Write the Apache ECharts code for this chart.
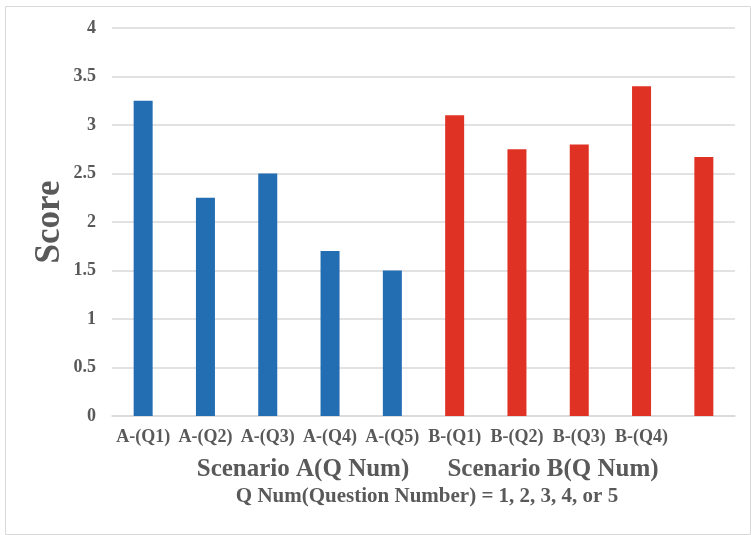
<!DOCTYPE html>
<html>
<head>
<meta charset="utf-8">
<style>
  html, body { margin: 0; padding: 0; background: #ffffff; }
  #chart { width: 751px; height: 535px; }
</style>
<script src="https://cdn.jsdelivr.net/npm/echarts@6/dist/echarts.min.js"></script>
</head>
<body>
<div id="chart"></div>
<script>
// Question categories for the two scenarios
const categories = ['A-(Q1)', 'A-(Q2)', 'A-(Q3)', 'A-(Q4)', 'A-(Q5)',
                    'B-(Q1)', 'B-(Q2)', 'B-(Q3)', 'B-(Q4)', 'B-(Q5)'];
// Mean scores per question
const scenarioA = [3.25, 2.25, 2.5, 1.7, 1.5];
const scenarioB = [3.1, 2.75, 2.8, 3.4, 2.67];
// Labels shown under the category axis (last one left blank)
const shownLabels = ['A-(Q1)', 'A-(Q2)', 'A-(Q3)', 'A-(Q4)', 'A-(Q5)',
                     'B-(Q1)', 'B-(Q2)', 'B-(Q3)', 'B-(Q4)', ''];
const yTicks = [0, 0.5, 1, 1.5, 2, 2.5, 3, 3.5, 4];

const BLUE = '#236db2';
const RED = '#df3224';
const TEXT = '#595959';
const FONT = '"Liberation Serif", "Times New Roman", serif';

const barData = categories.map((c, i) => {
  const isA = i < scenarioA.length;
  return {
    value: isA ? scenarioA[i] : scenarioB[i - scenarioA.length],
    itemStyle: { color: isA ? BLUE : RED }
  };
});

const chart = echarts.init(document.getElementById('chart'), null, { renderer: 'canvas' });
chart.setOption({
  animation: false,
  backgroundColor: '#ffffff',
  grid: { left: 112, right: 16, top: 28, bottom: 119, containLabel: false },
  title: [
    { text: 'Scenario A(Q Num)', left: 298, top: 452, textAlign: 'center',
      textStyle: { fontFamily: FONT, fontSize: 25, fontWeight: 'bold', color: TEXT } },
    { text: 'Scenario B(Q Num)', left: 548, top: 452, textAlign: 'center',
      textStyle: { fontFamily: FONT, fontSize: 25, fontWeight: 'bold', color: TEXT } },
    { text: 'Q Num(Question Number) = 1, 2, 3, 4, or 5', left: 422, top: 481, textAlign: 'center',
      textStyle: { fontFamily: FONT, fontSize: 21, fontWeight: 'bold', color: TEXT } }
  ],
  graphic: [
    { type: 'rect', left: 3, top: 4, shape: { width: 745, height: 528 },
      style: { fill: 'none', stroke: '#d9d9d9', lineWidth: 1 }, silent: true },
    // y-axis title
    { type: 'text', x: 50, y: 222, rotation: Math.PI / 2, silent: true,
      style: { text: 'Score', fontFamily: FONT, fontSize: 35, fontWeight: 'bold',
               fill: TEXT, align: 'center', verticalAlign: 'middle' } }
  ],
  xAxis: {
    type: 'category',
    data: categories,
    axisLine: { show: true, lineStyle: { color: '#d9d9d9', width: 1.5 } },
    axisTick: { show: false },
    axisLabel: {
      interval: 0,
      margin: 12,
      fontFamily: FONT, fontSize: 18, fontWeight: 'bold', color: TEXT,
      formatter: (v, i) => shownLabels[i]
    }
  },
  yAxis: {
    type: 'value',
    min: 0, max: 4, interval: 0.5,
    axisLine: { show: false },
    axisTick: { show: false },
    axisLabel: {
      margin: 16,
      fontFamily: FONT, fontSize: 18, fontWeight: 'bold', color: TEXT,
      formatter: v => (yTicks.includes(v) ? String(v) : '')
    },
    splitLine: { lineStyle: { color: '#d9d9d9', width: 1.5 } }
  },
  series: [{
    type: 'bar',
    data: barData,
    barWidth: 19,
    itemStyle: { borderWidth: 0 }
  }]
});
</script>
</body>
</html>
